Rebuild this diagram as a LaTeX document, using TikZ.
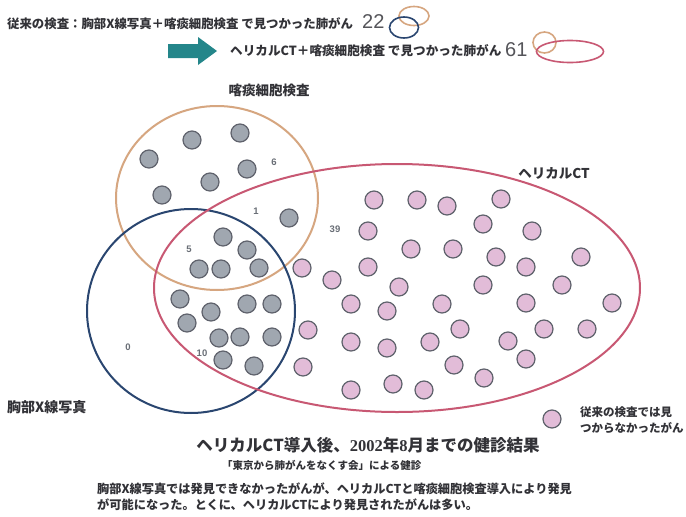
\documentclass[tikz,border=0pt]{standalone}
\usepackage{fontspec}
\newfontfamily\jp{Noto Sans CJK JP}
\newfontfamily\lsans{Liberation Sans}
\newfontfamily\lserif{Liberation Serif}
\newcommand\myfs[1]{\fontsize{#1}{#1}\selectfont}
\definecolor{txtc}{RGB}{50,50,55}
\definecolor{numc}{RGB}{105,110,118}
\definecolor{bignum}{RGB}{85,85,90}
\definecolor{orangec}{RGB}{214,166,128}
\definecolor{bluec}{RGB}{42,70,112}
\definecolor{pinkc}{RGB}{200,88,115}
\definecolor{grayfill}{RGB}{160,167,176}
\definecolor{pinkfill}{RGB}{226,188,216}
\definecolor{dotedge}{RGB}{95,98,108}
\definecolor{tealc}{RGB}{36,134,138}
\tikzset{
  txt/.style={inner sep=0pt, text=txtc},
  num/.style={inner sep=0pt, text=numc, font=\lsans\bfseries\myfs{9.5}},
  graydot/.style={circle, draw=dotedge, fill=grayfill, line width=1.2pt, minimum size=18pt, inner sep=0pt},
  pinkdot/.style={circle, draw=dotedge, fill=pinkfill, line width=1.2pt, minimum size=18pt, inner sep=0pt},
  setline/.style={line width=2pt},
  iconline/.style={line width=1.6pt},
}
\begin{document}
\begin{tikzpicture}[x=1pt,y=-1pt]
\useasboundingbox (0,0) rectangle (686,517);
\fill[white] (0,0) rectangle (686,517);

% ---- top legend lines
\node[txt, anchor=west, font=\jp\bfseries\myfs{12.4}] (t1) at (7,24) {従来の検査：胸部X線写真＋喀痰細胞検査 で見つかった肺がん};
\node[anchor=west, inner sep=0pt, text=bignum, font=\lsans\myfs{20}] (n22) at (362,22) {22};
\draw[orangec, iconline] (414,16) ellipse [x radius=15pt, y radius=9.5pt];
\draw[bluec, iconline] (404,27.5) ellipse [x radius=14.5pt, y radius=10.5pt];

\fill[tealc] (168,44) -- (198,44) -- (198,37) -- (217,51) -- (198,65) -- (198,58) -- (168,58) -- cycle;
\node[txt, anchor=west, font=\jp\bfseries\myfs{12.6}] (t2) at (230,51) {ヘリカルCT＋喀痰細胞検査 で見つかった肺がん};
\node[anchor=west, inner sep=0pt, text=bignum, font=\lsans\myfs{20}] (n61) at (505,50) {61};
\draw[orangec, iconline] (544.5,42.5) ellipse [x radius=11.5pt, y radius=10.5pt];
\draw[pinkc, iconline] (570,51.5) ellipse [x radius=33.5pt, y radius=11pt];

% ---- set labels
\node[txt, font=\jp\bfseries\myfs{13.5}] (lsp) at (269,90) {喀痰細胞検査};
\node[txt, font=\jp\bfseries\myfs{13.5}] (lct) at (554,173) {ヘリカルCT};
\node[txt, anchor=west, font=\jp\bfseries\myfs{14}] (lxr) at (7,407) {胸部X線写真};

% ---- sets
\draw[orangec, setline] (217,198) ellipse [x radius=101pt, y radius=92pt];
\draw[bluec, setline] (191,311) ellipse [x radius=104pt, y radius=102pt];
\draw[pinkc, setline] (397,288) ellipse [x radius=243pt, y radius=124pt];

% ---- dots
\foreach \x/\y [count=\i] in {240/133,192/140,149/159,247/169,210/182,162/195,
  289/218,
  223/237,247/250,199/269,221/269,259/268,
  180/299,211/312,247/304,272/304,187/323,219/338,240/337,272/337,223/360,254/366}
  \node[graydot] (g\i) at (\x,\y) {};

\foreach \x/\y [count=\i] in {374/200,417/200,447/206,501/199,368/231,483/224,532/231,
  411/249,453/249,496/257,526/267,581/257,302/268,332/280,368/267,399/287,483/285,562/285,
  351/304,387/311,442/304,526/303,612/303,308/330,460/329,544/329,587/329,
  351/342,387/348,430/342,508/341,303/367,454/365,526/359,484/378,351/390,393/384,424/390}
  \node[pinkdot] (p\i) at (\x,\y) {};

% ---- counts
\node[num] (c6) at (274,162) {6};
\node[num] (c1) at (256,211) {1};
\node[num] (c39) at (335,229) {39};
\node[num] (c5) at (189,249) {5};
\node[num] (c0) at (128,347) {0};
\node[num] (c10) at (202,353) {10};

% ---- legend
\node[pinkdot] (leg) at (552,419) {};
\node[txt, anchor=west, font=\jp\bfseries\myfs{11.5}] (leg1) at (580,412) {従来の検査では見};
\node[txt, anchor=west, font=\jp\bfseries\myfs{11.5}] (leg2) at (580,428) {つからなかったがん};

% ---- bottom texts
\node[txt, font=\jp\bfseries\myfs{16.5}] (title) at (368,445) {ヘリカルCT導入後、{\lserif\bfseries 2002}年{\lserif\bfseries 8}月までの健診結果};
\node[txt, anchor=west, font=\jp\bfseries\myfs{10.5}] (sub) at (222,465) {「東京から肺がんをなくす会」による健診};
\node[txt, anchor=west, font=\jp\bfseries\myfs{12.2}] (b1) at (97,489) {胸部X線写真では発見できなかったがんが、ヘリカルCTと喀痰細胞検査導入により発見};
\node[txt, anchor=west, font=\jp\bfseries\myfs{12.2}] (b2) at (97,505) {が可能になった。とくに、ヘリカルCTにより発見されたがんは多い。};
\end{tikzpicture}
\end{document}
